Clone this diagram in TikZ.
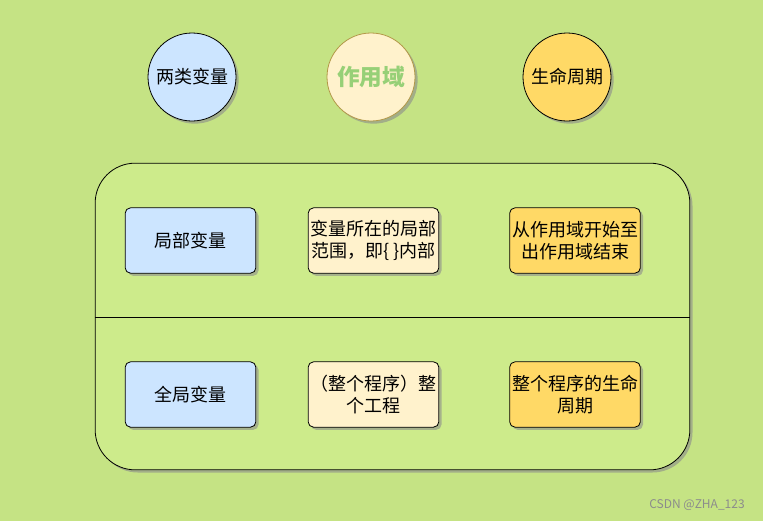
\documentclass[tikz,border=0pt]{standalone}
\usepackage{fontspec}
\setmainfont{Noto Sans CJK SC}
\usetikzlibrary{shadows}
\definecolor{bgGreen}{RGB}{197,227,132}
\definecolor{panelGreen}{RGB}{205,235,139}
\definecolor{cBlue}{RGB}{204,229,255}
\definecolor{cYellow}{RGB}{255,242,204}
\definecolor{cOrange}{RGB}{255,217,102}
\definecolor{tGreen}{RGB}{151,208,119}
\tikzset{
  font=\fontsize{13.5}{16.5}\selectfont,
  my shadow/.style={drop shadow={shadow xshift=2pt,shadow yshift=-2pt,fill=black!45,opacity=.6}},
  my circle/.style={circle,draw=black,semithick,minimum size=66pt,inner sep=0pt,my shadow},
  my box/.style={rectangle,draw=black,semithick,rounded corners=4pt,minimum width=98pt,
    minimum height=49pt,align=center,inner sep=1pt,my shadow},
  blue/.style={fill=cBlue},
  yellow/.style={fill=cYellow},
  orange/.style={fill=cOrange}
}
\begin{document}
\begin{tikzpicture}[x=0.75pt,y=-0.75pt]
\fill[bgGreen] (0,0) rectangle (763,521);
\useasboundingbox (0,0) rectangle (763,521);
% circles
\node[my circle,blue]                 (kind)  at (192,77) {两类变量};
\node[my circle,yellow,draw=cOrange!70!black] (scope) at (371,77)
  {\textcolor{tGreen}{\fontsize{17}{19}\selectfont\bfseries 作用域}};
\node[my circle,orange]               (life)  at (567,77) {生命周期};
% panel
\node[draw=black,semithick,fill=panelGreen,rounded corners=30pt,minimum width=446pt,
  minimum height=230pt,my shadow] (panel) at (392.5,316.5) {};
\draw[semithick] (panel.west |- 0,317) -- (panel.east |- 0,317);
% row 1
\node[my box,blue]   (local)      at (190.5,240.5) {局部变量};
\node[my box,yellow] (localscope) at (373.5,240.5) {变量所在的局部\\范围，即\{ \}内部};
\node[my box,orange] (locallife)  at (575,240.5)   {从作用域开始至\\出作用域结束};
% row 2
\node[my box,blue]   (global)      at (190.5,394.5) {全局变量};
\node[my box,yellow] (globalscope) at (373.5,394.5) {（整个程序）整\\个工程};
\node[my box,orange] (globallife)  at (575,394.5)   {整个程序的生命\\周期};
% watermark
\node[text=black!45,font=\fontsize{9}{10}\selectfont] (mark) at (697,505) {CSDN @ZHA\_123};
\end{tikzpicture}
\end{document}
